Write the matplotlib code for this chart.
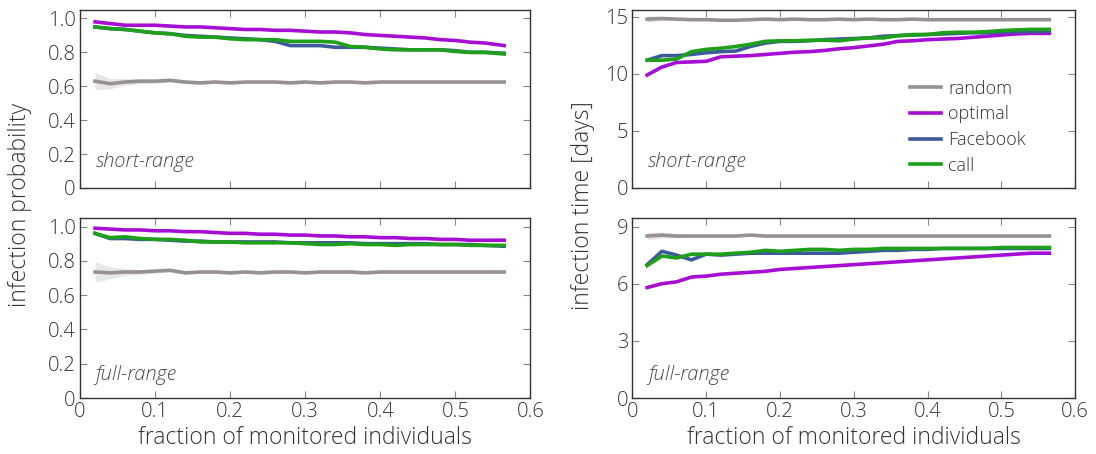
import numpy as np
import matplotlib
matplotlib.use('Agg')
import matplotlib.pyplot as plt

plt.rcParams['font.family'] = ['Open Sans', 'DejaVu Sans']
plt.rcParams['font.weight'] = 300
plt.rcParams['axes.labelweight'] = 300

# fraction of monitored individuals
frac = [0.02, 0.04, 0.06, 0.08, 0.10, 0.12, 0.14, 0.16, 0.18, 0.20, 0.22, 0.24, 0.26, 0.28,
        0.30, 0.32, 0.34, 0.36, 0.38, 0.40, 0.42, 0.44, 0.46, 0.48, 0.50, 0.52, 0.54, 0.565]

# infection probability, short-range
p_short_random = [0.63, 0.615, 0.625, 0.63, 0.63, 0.635, 0.625, 0.62, 0.625, 0.62, 0.625, 0.625, 0.625, 0.62,
                  0.625, 0.62, 0.625, 0.625, 0.62, 0.625, 0.625, 0.625, 0.625, 0.625, 0.625, 0.625, 0.625, 0.625]
p_short_random_err = [0.05, 0.03, 0.02, 0.015, 0.012, 0.01, 0.01, 0.008, 0.008, 0.008, 0.008, 0.008, 0.008, 0.008,
                      0.008, 0.008, 0.008, 0.008, 0.008, 0.008, 0.008, 0.008, 0.008, 0.008, 0.008, 0.008, 0.008, 0.008]
p_short_optimal = [0.98, 0.97, 0.96, 0.96, 0.96, 0.955, 0.95, 0.95, 0.945, 0.94, 0.935, 0.935, 0.93, 0.93,
                   0.925, 0.92, 0.92, 0.915, 0.905, 0.90, 0.895, 0.89, 0.885, 0.875, 0.87, 0.86, 0.855, 0.84]
p_short_fb = [0.95, 0.94, 0.935, 0.925, 0.915, 0.91, 0.90, 0.895, 0.89, 0.885, 0.88, 0.875, 0.865, 0.84,
              0.84, 0.84, 0.83, 0.83, 0.83, 0.825, 0.82, 0.815, 0.815, 0.815, 0.81, 0.80, 0.80, 0.795]
p_short_call = [0.95, 0.94, 0.935, 0.925, 0.915, 0.91, 0.895, 0.89, 0.89, 0.88, 0.875, 0.875, 0.875, 0.865,
                0.865, 0.865, 0.86, 0.835, 0.83, 0.82, 0.815, 0.815, 0.815, 0.815, 0.805, 0.80, 0.80, 0.79]

# infection probability, full-range
p_full_random = [0.735, 0.73, 0.735, 0.735, 0.74, 0.745, 0.73, 0.735, 0.735, 0.73, 0.735, 0.73, 0.735, 0.735,
                 0.73, 0.735, 0.735, 0.735, 0.73, 0.735, 0.735, 0.735, 0.735, 0.735, 0.735, 0.735, 0.735, 0.735]
p_full_random_err = [0.06, 0.035, 0.02, 0.015, 0.012, 0.01, 0.01, 0.008, 0.008, 0.008, 0.008, 0.008, 0.008, 0.008,
                     0.008, 0.008, 0.008, 0.008, 0.008, 0.008, 0.008, 0.008, 0.008, 0.008, 0.008, 0.008, 0.008, 0.008]
p_full_optimal = [0.99, 0.985, 0.98, 0.98, 0.975, 0.975, 0.97, 0.97, 0.965, 0.96, 0.96, 0.955, 0.955, 0.95,
                  0.95, 0.945, 0.945, 0.94, 0.94, 0.935, 0.935, 0.93, 0.93, 0.925, 0.925, 0.92, 0.92, 0.92]
p_full_fb = [0.96, 0.93, 0.93, 0.925, 0.925, 0.92, 0.915, 0.915, 0.91, 0.91, 0.91, 0.91, 0.91, 0.905,
             0.905, 0.905, 0.905, 0.905, 0.90, 0.90, 0.90, 0.90, 0.90, 0.895, 0.895, 0.895, 0.89, 0.885]
p_full_call = [0.96, 0.935, 0.94, 0.93, 0.925, 0.925, 0.92, 0.91, 0.91, 0.91, 0.905, 0.905, 0.905, 0.905,
               0.90, 0.895, 0.895, 0.90, 0.895, 0.895, 0.89, 0.895, 0.895, 0.895, 0.895, 0.89, 0.89, 0.89]

# infection time [days], short-range
t_short_random = [14.8, 14.85, 14.8, 14.75, 14.75, 14.7, 14.7, 14.75, 14.8, 14.75, 14.8, 14.75, 14.75, 14.8,
                  14.75, 14.8, 14.75, 14.75, 14.8, 14.75, 14.75, 14.75, 14.75, 14.75, 14.75, 14.75, 14.75, 14.75]
t_short_random_err = [0.3, 0.2, 0.12, 0.08, 0.06, 0.05, 0.05, 0.04, 0.04, 0.04, 0.04, 0.04, 0.04, 0.04,
                      0.04, 0.04, 0.04, 0.04, 0.04, 0.04, 0.04, 0.04, 0.04, 0.04, 0.04, 0.04, 0.04, 0.04]
t_short_optimal = [9.9, 10.6, 11.0, 11.05, 11.1, 11.5, 11.55, 11.6, 11.7, 11.8, 11.9, 11.95, 12.05, 12.2,
                   12.3, 12.45, 12.6, 12.85, 12.9, 13.0, 13.05, 13.1, 13.2, 13.3, 13.4, 13.5, 13.55, 13.55]
t_short_fb = [11.2, 11.6, 11.6, 11.7, 11.85, 11.95, 12.0, 12.4, 12.7, 12.85, 12.85, 12.9, 13.0, 13.05,
              13.1, 13.15, 13.3, 13.35, 13.4, 13.45, 13.5, 13.55, 13.6, 13.6, 13.65, 13.7, 13.7, 13.75]
t_short_call = [11.2, 11.2, 11.3, 11.95, 12.15, 12.25, 12.4, 12.6, 12.85, 12.9, 12.9, 12.95, 12.95, 12.9,
                13.05, 13.15, 13.15, 13.35, 13.45, 13.45, 13.6, 13.65, 13.65, 13.7, 13.8, 13.85, 13.9, 13.9]

# infection time [days], full-range
t_full_random = [8.5, 8.55, 8.5, 8.5, 8.5, 8.5, 8.5, 8.55, 8.5, 8.5, 8.5, 8.5, 8.5, 8.5,
                 8.5, 8.5, 8.5, 8.5, 8.5, 8.5, 8.5, 8.5, 8.5, 8.5, 8.5, 8.5, 8.5, 8.5]
t_full_random_err = [0.2, 0.15, 0.1, 0.06, 0.05, 0.04, 0.04, 0.03, 0.03, 0.03, 0.03, 0.03, 0.03, 0.03,
                     0.03, 0.03, 0.03, 0.03, 0.03, 0.03, 0.03, 0.03, 0.03, 0.03, 0.03, 0.03, 0.03, 0.03]
t_full_optimal = [5.8, 6.0, 6.1, 6.35, 6.4, 6.5, 6.55, 6.6, 6.65, 6.75, 6.8, 6.85, 6.9, 6.95,
                  7.0, 7.05, 7.1, 7.15, 7.2, 7.25, 7.3, 7.35, 7.4, 7.45, 7.5, 7.55, 7.6, 7.6]
t_full_fb = [7.0, 7.7, 7.5, 7.25, 7.55, 7.5, 7.55, 7.6, 7.6, 7.6, 7.6, 7.6, 7.6, 7.6,
             7.65, 7.7, 7.75, 7.75, 7.8, 7.8, 7.85, 7.85, 7.85, 7.85, 7.85, 7.85, 7.85, 7.85]
t_full_call = [6.95, 7.45, 7.35, 7.55, 7.55, 7.55, 7.6, 7.65, 7.75, 7.7, 7.75, 7.8, 7.8, 7.75,
               7.8, 7.8, 7.85, 7.85, 7.85, 7.85, 7.85, 7.85, 7.85, 7.85, 7.9, 7.9, 7.9, 7.9]

c_random = '#989194'
c_optimal = '#a70ed3'
c_fb = '#3b5b9b'
c_call = '#1ea01a'
lw = 2.6

fig = plt.figure(figsize=(10.96, 4.54), dpi=100)
ax_ps = fig.add_axes([0.073, 0.586, 0.411, 0.392])
ax_pf = fig.add_axes([0.073, 0.123, 0.411, 0.397])
ax_ts = fig.add_axes([0.577, 0.586, 0.404, 0.392])
ax_tf = fig.add_axes([0.577, 0.123, 0.404, 0.397])


def draw(ax, rnd, rnd_err, opt, fb, call):
    x = np.array(frac)
    r = np.array(rnd)
    e = np.array(rnd_err)
    ax.fill_between(x, r - e, r + e, color='#dddddd', alpha=0.7, lw=0)
    ax.plot(x, rnd, color=c_random, lw=lw, label='random')
    ax.plot(x, opt, color=c_optimal, lw=lw, label='optimal')
    ax.plot(x, fb, color=c_fb, lw=lw, label='Facebook')
    ax.plot(x, call, color=c_call, lw=lw, label='call')
    ax.set_xlim(0, 0.6)
    ax.set_xticks([0, 0.1, 0.2, 0.3, 0.4, 0.5, 0.6])
    ax.set_xticklabels(['0', '0.1', '0.2', '0.3', '0.4', '0.5', '0.6'])
    ax.tick_params(direction='in', top=True, right=True, labelsize=14.5, length=5,
                   color='#888888', labelcolor='#333333', pad=3)
    for s in ax.spines.values():
        s.set_color('#333333')
        s.set_linewidth(1.0)


draw(ax_ps, p_short_random, p_short_random_err, p_short_optimal, p_short_fb, p_short_call)
draw(ax_pf, p_full_random, p_full_random_err, p_full_optimal, p_full_fb, p_full_call)
draw(ax_ts, t_short_random, t_short_random_err, t_short_optimal, t_short_fb, t_short_call)
draw(ax_tf, t_full_random, t_full_random_err, t_full_optimal, t_full_fb, t_full_call)

for ax in (ax_ps, ax_pf):
    ax.set_ylim(0, 1.05)
    ax.set_yticks([0, 0.2, 0.4, 0.6, 0.8, 1.0])
    ax.set_yticklabels(['0', '0.2', '0.4', '0.6', '0.8', '1.0'])
ax_ts.set_ylim(0, 15.6)
ax_ts.set_yticks([0, 5, 10, 15])
ax_tf.set_ylim(0, 9.45)
ax_tf.set_yticks([0, 3, 6, 9])

for ax in (ax_ps, ax_ts):
    ax.tick_params(labelbottom=False)

for ax in (ax_ps, ax_ts):
    ax.text(0.035, 0.115, 'short-range', transform=ax.transAxes, fontsize=14.5,
            style='italic', color='#4a4a4a')
for ax in (ax_pf, ax_tf):
    ax.text(0.035, 0.1, 'full-range', transform=ax.transAxes, fontsize=14.5,
            style='italic', color='#4a4a4a')

for ax in (ax_pf, ax_tf):
    ax.set_xlabel('fraction of monitored individuals', fontsize=16.5, color='#333333', labelpad=3)

fig.text(0.018, 0.548, 'infection probability', rotation=90, ha='center', va='center',
         fontsize=16.5, color='#333333')
fig.text(0.532, 0.548, 'infection time [days]', rotation=90, ha='center', va='center',
         fontsize=16.5, color='#333333')

ax_ts.legend(loc='lower right', frameon=False, fontsize=13, handlelength=1.75,
             handletextpad=0.4, labelspacing=0.42, borderaxespad=0.0,
             bbox_to_anchor=(0.905, 0.035))
for t in ax_ts.get_legend().get_texts():
    t.set_color('#333333')

fig.savefig('out.png', dpi=100)
